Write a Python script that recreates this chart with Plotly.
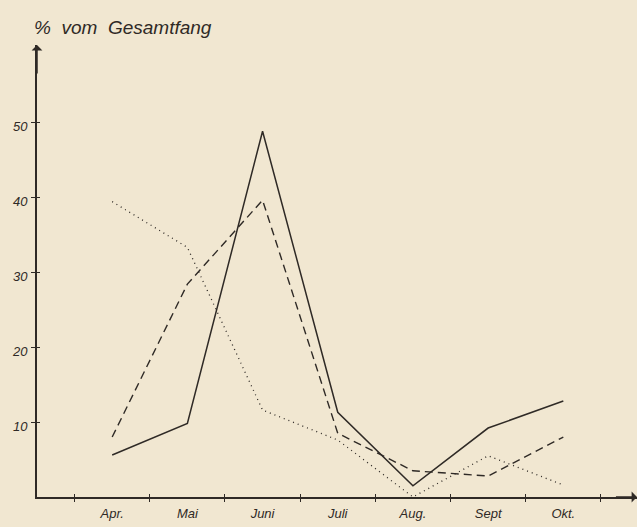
import plotly.graph_objects as go

months = ["Apr.", "Mai", "Juni", "Juli", "Aug.", "Sept", "Okt."]
month_pos = [1, 2, 3, 4, 5, 6, 7]
solid = [5.6, 9.8, 48.8, 11.3, 1.5, 9.2, 12.8]
dashed = [8.0, 28.4, 39.6, 8.5, 3.5, 2.8, 8.0]
dotted = [39.4, 33.3, 11.6, 7.6, 0.0, 5.5, 1.6]
y_ticks = [10, 20, 30, 40, 50]
x_minor = [0.5, 1.5, 2.5, 3.5, 4.5, 5.5, 6.5, 7.5]

ink = "#2f2a26"
bg = "#f1e7d1"
font_fam = "Liberation Sans, DejaVu Sans, sans-serif"

fig = go.Figure()
fig.add_trace(go.Scatter(x=month_pos, y=solid, mode="lines",
                         line=dict(color=ink, width=1.5)))
fig.add_trace(go.Scatter(x=month_pos, y=dashed, mode="lines",
                         line=dict(color=ink, width=1.4, dash="8px,5px")))
fig.add_trace(go.Scatter(x=month_pos, y=dotted, mode="lines",
                         line=dict(color=ink, width=1.3, dash="1px,4px")))
# invisible traces to enable extra axes for cross ticks
fig.add_trace(go.Scatter(x=[0], y=[0], xaxis="x2", mode="markers",
                         marker=dict(opacity=0), hoverinfo="skip"))
fig.add_trace(go.Scatter(x=[0], y=[0], yaxis="y2", mode="markers",
                         marker=dict(opacity=0), hoverinfo="skip"))
fig.add_trace(go.Scatter(x=[0], y=[0], xaxis="x3", mode="markers",
                         marker=dict(opacity=0), hoverinfo="skip"))

xr = [0, 7.98]
yr = [0, 60.3]
tickfont = dict(family=font_fam, size=13, color=ink, style="italic")

fig.update_layout(
    width=637, height=527,
    paper_bgcolor=bg, plot_bgcolor=bg,
    showlegend=False,
    margin=dict(l=37, r=0, t=45, b=30, autoexpand=False),
    xaxis=dict(range=xr, tickvals=month_pos, ticktext=months, ticks="",
               showgrid=False, zeroline=False, showline=True,
               linecolor=ink, linewidth=2, tickfont=tickfont,
               ticklabelstandoff=3),
    xaxis2=dict(range=xr, overlaying="x", tickvals=x_minor, ticks="outside",
                ticklen=4, tickwidth=1.3, tickcolor=ink, showticklabels=False,
                showgrid=False, zeroline=False, showline=False, anchor="y"),
    xaxis3=dict(range=xr, overlaying="x", tickvals=x_minor, ticks="inside",
                ticklen=3, tickwidth=1.3, tickcolor=ink, showticklabels=False,
                showgrid=False, zeroline=False, showline=False, anchor="y"),
    yaxis=dict(range=yr, tickvals=y_ticks, ticks="outside", ticklen=4,
               tickwidth=1.3, tickcolor=ink, showgrid=False, zeroline=False,
               showline=True, linecolor=ink, linewidth=2, tickfont=tickfont,
               ticklabelshift=4, ticklabelstandoff=1),
    yaxis2=dict(range=yr, overlaying="y", tickvals=y_ticks, ticks="inside",
                ticklen=3, tickwidth=1.3, tickcolor=ink, showticklabels=False,
                showgrid=False, zeroline=False, showline=False, side="left",
                anchor="x"),
)

# axis arrows
fig.add_annotation(x=xr[1], y=0, ax=xr[1] - 0.3, ay=0, axref="x", ayref="y",
                   xref="x", yref="y", text="", showarrow=True,
                   arrowhead=1, arrowsize=1.2, arrowwidth=1.5, arrowcolor=ink)
fig.add_annotation(x=0, y=yr[1], ax=0, ay=yr[1] - 4, axref="x", ayref="y",
                   xref="x", yref="y", text="", showarrow=True,
                   arrowhead=1, arrowsize=1.2, arrowwidth=1.5, arrowcolor=ink)

fig.add_annotation(text="%  vom  Gesamtfang", xref="paper", yref="paper",
                   x=-0.008, y=1.0, yshift=18, xanchor="left", yanchor="middle",
                   showarrow=False,
                   font=dict(family=font_fam, size=19, color=ink, style="italic"))

fig.write_html(
    "out.html",
    config={"displayModeBar": False},
    post_script="document.body.style.margin='0';"
                "document.body.style.background='" + bg + "';",
)
